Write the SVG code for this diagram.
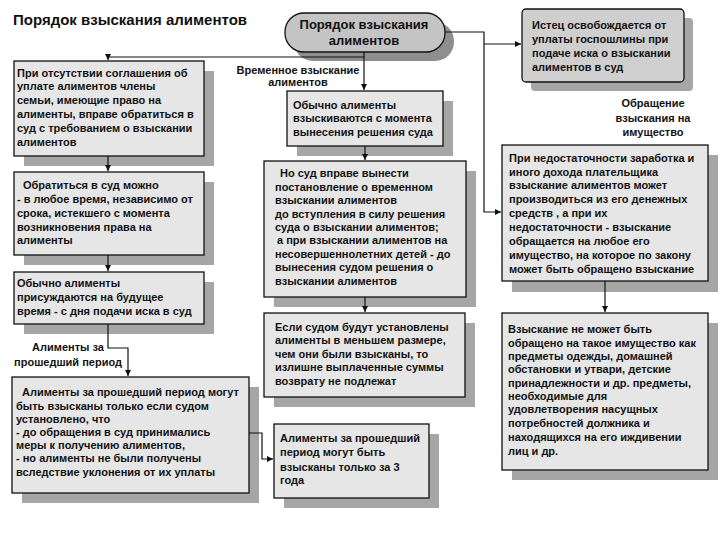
<svg xmlns="http://www.w3.org/2000/svg" width="720" height="540" viewBox="0 0 720 540">
<style>
.bg{fill:#ffffff}
.sh{fill:#a6a6a6}
.box{fill:#e6e6e6;stroke:#111;stroke-width:1.3}
.pill{fill:#c4c4c4;stroke:#111;stroke-width:1.3}
.pillsh{fill:#8e8e8e}
.dark{fill:#cfcfcf;stroke:#111;stroke-width:1.3}
.t{font-family:"Liberation Sans",Arial,sans-serif;font-size:11px;font-weight:bold;fill:#111}
.c{text-anchor:middle}
.title{font-family:"Liberation Sans",Arial,sans-serif;font-size:15px;font-weight:bold;fill:#111}
.pt{font-family:"Liberation Sans",Arial,sans-serif;font-size:13px;font-weight:bold;fill:#111;text-anchor:middle}
.ln{fill:none;stroke:#111;stroke-width:1.2}
</style>
<defs>
<marker id="ar" markerUnits="userSpaceOnUse" markerWidth="7" markerHeight="7" refX="6" refY="3.5" orient="auto">
<path d="M0,0.5 L6,3.5 L0,6.5 z" fill="#111"/>
</marker>
</defs>
<rect class="bg" x="0" y="0" width="720" height="540"/>
<text class="title" x="13" y="25">Порядок взыскания алиментов</text>

<g id="root">
<rect class="pillsh" x="294" y="22" width="160" height="39" rx="19"/>
<rect class="pill" x="285" y="13" width="160" height="39" rx="19"/>
<text class="pt" x="364" y="29">Порядок взыскания</text>
<text class="pt" x="364" y="45">алиментов</text>
</g>

<g id="label-temp">
<text class="t c" x="298" y="74">Временное взыскание</text>
<text class="t c" x="298" y="86">алиментов</text>
</g>
<g id="label-past">
<text class="t c" x="68" y="351">Алименты за</text>
<text class="t c" x="68" y="366">прошедший период</text>
</g>
<g id="label-property">
<text class="t c" x="653" y="107">Обращение</text>
<text class="t c" x="653" y="122">взыскания на</text>
<text class="t c" x="653" y="136">имущество</text>
</g>

<g id="box-l1">
<rect class="sh" x="24" y="71" width="190" height="95"/>
<rect class="box" x="14" y="61" width="190" height="95"/>
<text class="t" x="17" y="77">При отсутствии соглашения об</text>
<text class="t" x="17" y="90">уплате алиментов члены</text>
<text class="t" x="17" y="104">семьи, имеющие право на</text>
<text class="t" x="17" y="118">алименты, вправе обратиться в</text>
<text class="t" x="17" y="132">суд с требованием о взыскании</text>
<text class="t" x="17" y="146">алиментов</text>
</g>

<g id="box-l2">
<rect class="sh" x="24" y="182" width="190" height="83"/>
<rect class="box" x="14" y="172" width="190" height="83"/>
<text class="t" x="23" y="189">Обратиться в суд можно</text>
<text class="t" x="17" y="203">- в любое время, независимо от</text>
<text class="t" x="17" y="217">срока, истекшего с момента</text>
<text class="t" x="17" y="231">возникновения права на</text>
<text class="t" x="17" y="244">алименты</text>
</g>

<g id="box-l3">
<rect class="sh" x="24" y="282" width="190" height="52"/>
<rect class="box" x="14" y="272" width="190" height="52"/>
<text class="t" x="17" y="287">Обычно алименты</text>
<text class="t" x="17" y="301">присуждаются на будущее</text>
<text class="t" x="17" y="315">время - с дня подачи иска в суд</text>
</g>

<g id="box-l4">
<rect class="sh" x="22" y="387" width="237" height="116"/>
<rect class="box" x="12" y="377" width="237" height="116"/>
<text class="t" x="22" y="396">Алименты за прошедший период могут</text>
<text class="t" x="16" y="410">быть взысканы только если судом</text>
<text class="t" x="16" y="423">установлено, что</text>
<text class="t" x="16" y="436">- до обращения в суд принимались</text>
<text class="t" x="16" y="449">меры  к получению алиментов,</text>
<text class="t" x="16" y="462">- но алименты не были получены</text>
<text class="t" x="16" y="476">вследствие уклонения  от их уплаты</text>
</g>

<g id="box-l5">
<rect class="sh" x="284" y="434" width="155" height="74"/>
<rect class="box" x="274" y="424" width="155" height="74"/>
<text class="t" x="280" y="442">Алименты за прошедший</text>
<text class="t" x="280" y="456">период могут быть</text>
<text class="t" x="280" y="471">взысканы только за 3</text>
<text class="t" x="280" y="484">года</text>
</g>

<g id="box-m1">
<rect class="sh" x="297" y="101" width="156" height="55"/>
<rect class="box" x="287" y="91" width="156" height="55"/>
<text class="t" x="293" y="109">Обычно алименты</text>
<text class="t" x="293" y="122">взыскиваются с момента</text>
<text class="t" x="293" y="136">вынесения решения суда</text>
</g>

<g id="box-m2">
<rect class="sh" x="274" y="171" width="202" height="136"/>
<rect class="box" x="264" y="161" width="202" height="136"/>
<text class="t" x="280" y="177">Но суд вправе вынести</text>
<text class="t" x="275" y="191">постановление о временном</text>
<text class="t" x="275" y="204">взыскании алиментов</text>
<text class="t" x="275" y="218">до вступления в силу решения</text>
<text class="t" x="275" y="231">суда о взыскании алиментов;</text>
<text class="t" x="277" y="244">а при взыскании алиментов на</text>
<text class="t" x="275" y="258">несовершеннолетних детей - до</text>
<text class="t" x="275" y="271">вынесения судом решения  о</text>
<text class="t" x="275" y="285">взыскании алиментов</text>
</g>

<g id="box-m3">
<rect class="sh" x="274" y="323" width="201" height="84"/>
<rect class="box" x="264" y="313" width="201" height="84"/>
<text class="t" x="275" y="331">Если судом будут установлены</text>
<text class="t" x="275" y="344">алименты в меньшем размере,</text>
<text class="t" x="275" y="358">чем они были взысканы, то</text>
<text class="t" x="275" y="371">излишне выплаченные суммы</text>
<text class="t" x="275" y="385">возврату не подлежат</text>
</g>

<g id="box-r1">
<rect class="sh" x="531" y="18" width="162" height="73" rx="4"/>
<rect class="dark" x="522" y="9" width="162" height="73" rx="4"/>
<text class="t" x="532" y="29">Истец освобождается от</text>
<text class="t" x="532" y="43">уплаты госпошлины при</text>
<text class="t" x="532" y="57">подаче иска о взыскании</text>
<text class="t" x="532" y="71">алиментов в суд</text>
</g>

<g id="box-r2">
<rect class="sh" x="512" y="155" width="206" height="137"/>
<rect class="box" x="502" y="145" width="206" height="136"/>
<text class="t" x="509" y="162">При недостаточности заработка и</text>
<text class="t" x="509" y="176">иного дохода плательщика</text>
<text class="t" x="509" y="189">взыскание алиментов  может</text>
<text class="t" x="509" y="203">производиться из его денежных</text>
<text class="t" x="509" y="217">средств ,  а при их</text>
<text class="t" x="509" y="231">недостаточности - взыскание</text>
<text class="t" x="509" y="245">обращается на любое его</text>
<text class="t" x="509" y="259">имущество, на которое по закону</text>
<text class="t" x="509" y="273">может быть обращено взыскание</text>
</g>

<g id="box-r3">
<rect class="sh" x="512" y="323" width="206" height="157"/>
<rect class="box" x="502" y="313" width="206" height="157"/>
<text class="t" x="508" y="333">Взыскание не может быть</text>
<text class="t" x="508" y="347">обращено на такое имущество как</text>
<text class="t" x="508" y="360">предметы одежды, домашней</text>
<text class="t" x="508" y="373">обстановки и утвари, детские</text>
<text class="t" x="508" y="387">принадлежности и др. предметы,</text>
<text class="t" x="508" y="400">необходимые для</text>
<text class="t" x="508" y="413">удовлетворения насущных</text>
<text class="t" x="508" y="427">потребностей должника и</text>
<text class="t" x="508" y="441">находящихся на его иждивении</text>
<text class="t" x="508" y="455">лиц и др.</text>
</g>

<g id="connectors">
<polyline class="ln" points="445,32 484,32 484,212 501,212" marker-end="url(#ar)"/>
<polyline class="ln" points="484,44 521,44" marker-end="url(#ar)"/>
<polyline class="ln" points="364,52 364,90" marker-end="url(#ar)"/>
<polyline class="ln" points="364,57 108,57 108,60" marker-end="url(#ar)"/>
<polyline class="ln" points="108,156 108,171" marker-end="url(#ar)"/>
<polyline class="ln" points="108,255 108,271" marker-end="url(#ar)"/>
<polyline class="ln" points="108,324 108,348 128,348 128,376" marker-end="url(#ar)"/>
<polyline class="ln" points="249,433 262,433 262,459 273,459" marker-end="url(#ar)"/>
<polyline class="ln" points="365,146 365,160" marker-end="url(#ar)"/>
<polyline class="ln" points="365,297 365,312" marker-end="url(#ar)"/>
<polyline class="ln" points="605,281 605,312" marker-end="url(#ar)"/>
</g>
</svg>
